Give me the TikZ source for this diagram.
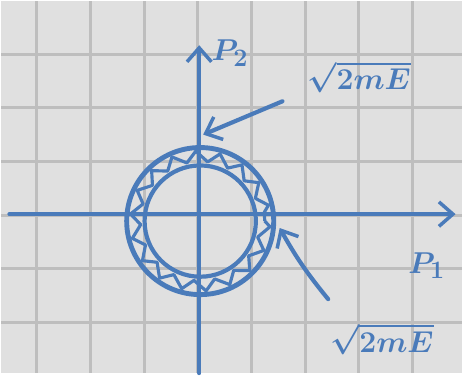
\documentclass[tikz,border=0pt]{standalone}
\usepackage{amsmath}
\usepackage{tikz}
\usetikzlibrary{arrows.meta,decorations.pathmorphing}
\definecolor{Paper}{HTML}{E0E0E0}
\definecolor{Rule}{HTML}{BEBEBE}
\definecolor{Ink}{HTML}{4A7BBA}

\begin{document}
\begin{tikzpicture}[x=0.02cm,y=-0.02cm,font=\fontsize{19}{21}\selectfont\boldmath,
  ink/.style={draw=Ink,line width=2.4pt,line cap=round,line join=round},
  barb/.style={-{Straight Barb[length=8pt,width=14pt,line width=2pt]}},
  lbl/.style={text=Ink,inner sep=0pt}]
  % paper and grid
  \fill[Paper] (0,0) rectangle (463,374);
  \foreach \i in {0,...,7} \draw[Rule,line width=1.7pt] (35.5+54*\i,0) -- ++(0,374);
  \foreach \j in {0,...,5} \draw[Rule,line width=1.7pt] (0,53+54*\j) -- ++(463,0);
  % axes
  \coordinate (o) at (199,214);
  \coordinate (xl) at (8,214);
  \coordinate (xr) at (457,214);
  \coordinate (yb) at (199,374);
  \coordinate (yt) at (199,44);
  \draw[ink,barb] (xl) -- (xr);
  \draw[ink,barb] (yb) -- (yt);
  \node[lbl] (p1) at (428,266) {$P_1$};
  \node[lbl] (p2) at (230,52) {$P_2$};
  % energy shell
  \coordinate (c) at (200,221);
  \draw[ink,line width=2.8pt] (c) circle[radius=74];
  \draw[ink,line width=2.4pt] (c) circle[radius=56];
  \draw[draw=Ink,line width=1.8pt,line join=round,decorate,
    decoration={zigzag,segment length=13pt,amplitude=3pt}] (c) circle[radius=65];
  % labels
  \node[lbl] (outer) at (360,76) {$\sqrt{2mE}$};
  \node[lbl] (inner) at (383,340) {$\sqrt{2mE}$};
  \coordinate (top) at (203,134);
  \coordinate (side) at (280,228);
  \draw[ink,barb] (outer.south west) ++(-25,8) -- (top);
  \draw[ink,barb] (inner.north west) ++(-2,-24) to[bend left=5] (side);
\end{tikzpicture}
\end{document}
